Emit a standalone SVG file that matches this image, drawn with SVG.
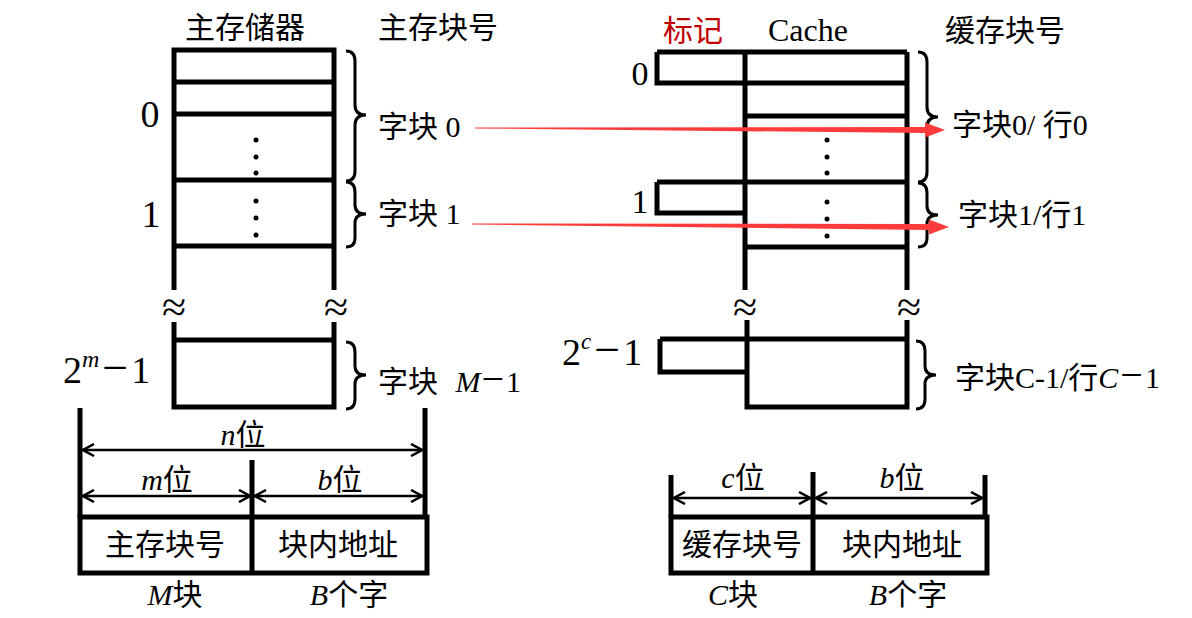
<svg xmlns="http://www.w3.org/2000/svg" width="1192" height="618" viewBox="0 0 1192 618">
<defs>
<style>
.t{font-family:"Liberation Serif","Noto Sans CJK SC",serif;font-size:30px;fill:#000}
.big{font-size:38px}
.mid{font-size:34px}
.i{font-style:italic}
.red{fill:#c00000}
.thick{fill:none;stroke:#000;stroke-width:5}
.brace{fill:none;stroke:#000;stroke-width:3}
.dim{fill:none;stroke:#000;stroke-width:2.5;marker-start:url(#ah);marker-end:url(#ah)}
.brk{font-family:"Liberation Serif",serif;font-size:44px;fill:#000}
.dot{fill:#000}
.arr{fill:#ff3b3b}
</style>
<marker id="ah" viewBox="-13 -7 14 14" markerWidth="14" markerHeight="14" refX="0" refY="0" orient="auto-start-reverse" markerUnits="userSpaceOnUse">
<path d="M-11,-6 L0,0 L-11,6" fill="none" stroke="#000" stroke-width="2.5"/>
</marker>
</defs>

<g id="main-memory">
<text class="t" x="245" y="38" text-anchor="middle">主存储器</text>
<text class="t" x="378" y="38">主存块号</text>
<path class="thick" d="M174,290 V50 H334 V290 M174,82 H334 M174,114 H334 M174,180 H334 M174,246 H334"/>
<path class="thick" d="M174,322 V407 H334 V322 M174,340 H334"/>
<text class="brk" x="174" y="322" text-anchor="middle">≈</text>
<text class="brk" x="336" y="322" text-anchor="middle">≈</text>
<circle class="dot" cx="256" cy="140" r="2.5"/><circle class="dot" cx="256" cy="157" r="2.5"/><circle class="dot" cx="256" cy="173" r="2.5"/>
<circle class="dot" cx="256" cy="201" r="2.5"/><circle class="dot" cx="256" cy="218" r="2.5"/><circle class="dot" cx="256" cy="235" r="2.5"/>
<text class="t big" x="150" y="127" text-anchor="middle">0</text>
<text class="t big" x="151" y="227" text-anchor="middle">1</text>
<text class="t big" x="63" y="383">2<tspan class="i" style="font-size:24px" dy="-16">m</tspan><tspan dy="16" dx="3" style="font-size:46px">−</tspan><tspan dx="3">1</tspan></text>
<path class="brace" d="M346,51 Q355,51 355,61 V105 Q355,115 366,115 Q355,115 355,125 V171 Q355,181 346,181"/>
<path class="brace" d="M346,182 Q355,182 355,192 V205 Q355,214 366,214 Q355,214 355,223 V238 Q355,247 346,247"/>
<path class="brace" d="M346,342 Q355,342 355,352 V366 Q355,375 366,375 Q355,375 355,384 V399 Q355,409 346,409"/>
<text class="t" x="378" y="137">字块 0</text>
<text class="t" x="378" y="224">字块 1</text>
<text class="t" x="378" y="392">字块 <tspan class="i" dx="10">M</tspan><tspan dx="1" style="font-size:40px">−</tspan><tspan dx="2">1</tspan></text>
</g>

<g id="cache">
<text class="t red" x="693" y="41" text-anchor="middle">标记</text>
<text class="t" x="808" y="41" text-anchor="middle" style="font-size:32px">Cache</text>
<text class="t" x="945" y="41">缓存块号</text>
<path class="thick" d="M745,290 V52 M907,290 V52 M657,52 H907 M657,52 V83 H907 M745,116 H907 M657,182 H907 M657,182 V213 H745 M745,247 H907"/>
<path class="thick" d="M747,320 V407 H907 V320 M660,339 H907 M660,339 V372 H747"/>
<text class="brk" x="745" y="322" text-anchor="middle">≈</text>
<text class="brk" x="909" y="322" text-anchor="middle">≈</text>
<circle class="dot" cx="827" cy="140" r="2.5"/><circle class="dot" cx="827" cy="157" r="2.5"/><circle class="dot" cx="827" cy="173" r="2.5"/>
<circle class="dot" cx="827" cy="202" r="2.5"/><circle class="dot" cx="827" cy="219" r="2.5"/><circle class="dot" cx="827" cy="236" r="2.5"/>
<text class="t mid" x="640" y="85" text-anchor="middle">0</text>
<text class="t mid" x="640" y="213" text-anchor="middle">1</text>
<text class="t big" x="562" y="365">2<tspan class="i" style="font-size:23px" dy="-16">c</tspan><tspan dy="16" dx="3" style="font-size:46px">−</tspan><tspan dx="3">1</tspan></text>
<path class="brace" d="M918,52 Q927,52 927,62 V107 Q927,117 938,117 Q927,117 927,127 V172 Q927,182 918,182"/>
<path class="brace" d="M918,183 Q927,183 927,193 V206 Q927,215 938,215 Q927,215 927,224 V238 Q927,247 918,247"/>
<path class="brace" d="M916,341 Q925,341 925,351 V366 Q925,375 936,375 Q925,375 925,384 V399 Q925,409 916,409"/>
<text class="t" x="952" y="135">字块0/ 行0</text>
<text class="t" x="958" y="225">字块1/行1</text>
<text class="t" x="955" y="388">字块C-1/行<tspan class="i">C</tspan><tspan dx="2" style="font-size:40px">−</tspan><tspan dx="2">1</tspan></text>
</g>

<g id="mm-address">
<path class="thick" d="M80,408 V517 M425,408 V517 M252,460 V573"/>
<rect class="thick" x="80" y="517" width="347" height="56"/>
<text class="t" x="243" y="445" text-anchor="middle"><tspan class="i">n</tspan>位</text>
<text class="t" x="167" y="490" text-anchor="middle"><tspan class="i">m</tspan>位</text>
<text class="t" x="340" y="490" text-anchor="middle"><tspan class="i">b</tspan>位</text>
<text class="t" x="165" y="555" text-anchor="middle">主存块号</text>
<text class="t" x="338" y="555" text-anchor="middle">块内地址</text>
<text class="t" x="175" y="605" text-anchor="middle"><tspan class="i">M</tspan>块</text>
<text class="t" x="349" y="605" text-anchor="middle"><tspan class="i">B</tspan>个字</text>
</g>

<g id="cache-address">
<path class="thick" d="M671,475 V517 M985,475 V517 M813,472 V573"/>
<rect class="thick" x="671" y="517" width="316" height="56"/>
<text class="t" x="743" y="488" text-anchor="middle"><tspan class="i">c</tspan>位</text>
<text class="t" x="902" y="488" text-anchor="middle"><tspan class="i">b</tspan>位</text>
<text class="t" x="742" y="555" text-anchor="middle">缓存块号</text>
<text class="t" x="902" y="555" text-anchor="middle">块内地址</text>
<text class="t" x="733" y="605" text-anchor="middle"><tspan class="i">C</tspan>块</text>
<text class="t" x="908" y="605" text-anchor="middle"><tspan class="i">B</tspan>个字</text>
</g>

<g id="connectors">
<line class="dim" x1="83" y1="450" x2="422" y2="450"/>
<line class="dim" x1="83" y1="496" x2="250" y2="496"/>
<line class="dim" x1="255" y1="496" x2="422" y2="496"/>
<line class="dim" x1="674" y1="498" x2="810" y2="498"/>
<line class="dim" x1="816" y1="498" x2="982" y2="498"/>
<polygon class="arr" points="475,127.5 925,127 925,122.5 945,130 925,137.5 925,133 475,128.5"/>
<polygon class="arr" points="472,223.5 929,224 929,219.5 949,227 929,234.5 929,230 472,224.5"/>
</g>
</svg>
